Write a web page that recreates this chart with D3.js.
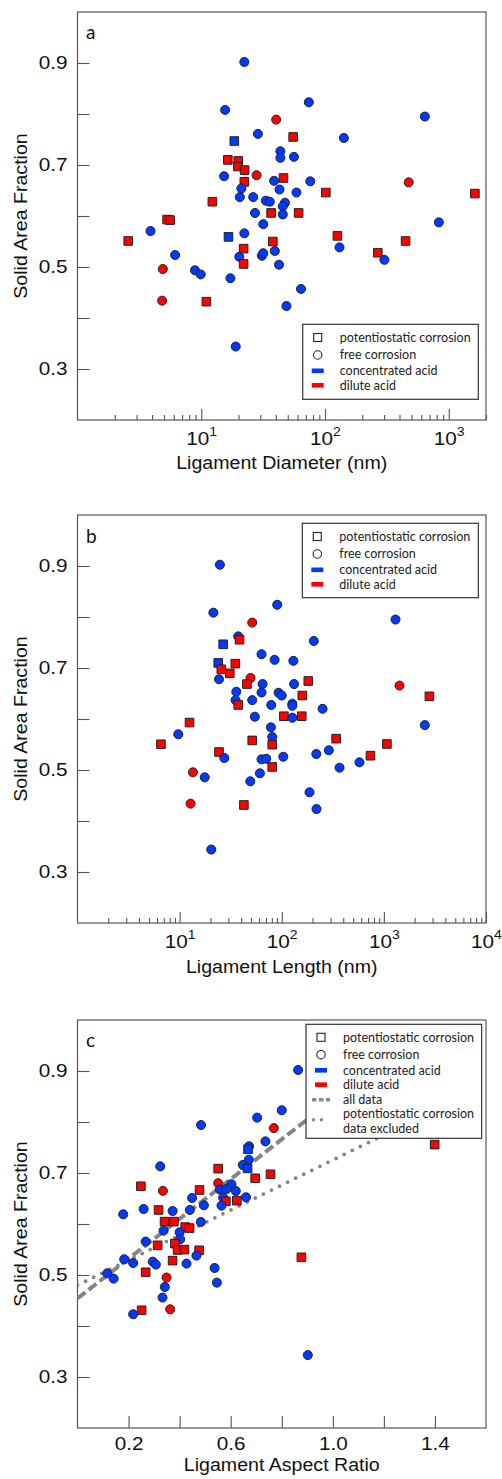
<!DOCTYPE html>
<html>
<head>
<meta charset="utf-8">
<script src="https://cdn.jsdelivr.net/npm/d3@7"></script>
<style>
  body { margin: 0; background: #fff; }
  svg { display: block; }
</style>
</head>
<body>
<svg id="fig" width="502" height="1479"></svg>
<script>
// type codes: P = potentiostatic corrosion (square), F = free corrosion (circle)
//             C = concentrated acid (blue), D = dilute acid (red)

// panel a: ligament diameter (nm) vs solid area fraction
const diameterData = [
  [22.3, 0.902, "FC"], [15.6, 0.808, "FC"], [74, 0.823, "FC"], [40.3, 0.789, "FD"],
  [641, 0.795, "FC"], [28.7, 0.761, "FC"], [55.3, 0.755, "PD"], [142, 0.753, "FC"],
  [18.5, 0.747, "PC"], [43.6, 0.727, "FC"], [43.6, 0.714, "FC"], [56.1, 0.716, "FC"],
  [16.4, 0.710, "PD"], [19.9, 0.708, "PD"], [19.8, 0.697, "PD"], [22.4, 0.690, "PD"],
  [15.3, 0.678, "FC"], [28, 0.680, "FD"], [22.3, 0.667, "PD"], [46.2, 0.6745, "PD"],
  [38.8, 0.669, "FC"], [76, 0.668, "FC"], [21.1, 0.654, "FC"], [42.9, 0.652, "FC"],
  [58.8, 0.646, "FC"], [101.6, 0.646, "PD"], [1626, 0.644, "PD"], [475, 0.666, "FD"],
  [20.5, 0.637, "FC"], [26.3, 0.637, "FC"], [12.3, 0.628, "PD"], [33.3, 0.630, "FC"],
  [35.8, 0.628, "FC"], [47.5, 0.626, "FC"], [45.6, 0.619, "FC"], [27.2, 0.606, "FC"],
  [36.7, 0.606, "PD"], [45.6, 0.603, "FC"], [61.2, 0.606, "PD"], [31.7, 0.584, "FC"],
  [832, 0.5875, "FC"], [5.3, 0.593, "PD"], [5.6, 0.592, "PD"], [3.89, 0.5705, "FC"],
  [2.57, 0.551, "PD"], [16.6, 0.559, "PC"], [22.3, 0.566, "FC"], [37.9, 0.550, "PD"],
  [126, 0.561, "PD"], [448, 0.551, "PD"], [6.15, 0.5235, "FC"], [22, 0.536, "PD"],
  [20.3, 0.520, "FC"], [22, 0.506, "PD"], [30.9, 0.522, "FC"], [31.7, 0.527, "FC"],
  [39.3, 0.5315, "FC"], [42.5, 0.5045, "FC"], [131, 0.5385, "FC"], [267, 0.528, "PD"],
  [302, 0.514, "FC"], [4.89, 0.496, "FD"], [8.9, 0.4935, "FC"], [9.9, 0.4855, "FC"],
  [17.2, 0.478, "FC"], [64, 0.457, "FC"], [4.83, 0.434, "FD"], [11, 0.432, "PD"],
  [48.8, 0.4235, "FC"], [19, 0.344, "FC"]
];

// panel b: ligament length (nm) vs solid area fraction
const lengthData = [
  [24.8, 0.9025, "FC"], [21.4, 0.8085, "FC"], [90.3, 0.824, "FC"], [51.4, 0.789, "FD"],
  [1300, 0.795, "FC"], [37.5, 0.762, "FC"], [38.6, 0.7555, "PD"], [206, 0.753, "FC"],
  [26.7, 0.7465, "PC"], [63.4, 0.727, "FC"], [85.1, 0.716, "FC"], [130, 0.714, "FC"],
  [23.9, 0.710, "PC"], [35.1, 0.7085, "PD"], [25.6, 0.6975, "PD"], [31, 0.6895, "PD"],
  [24.3, 0.678, "FC"], [49.5, 0.6805, "FD"], [45.6, 0.6685, "PD"], [64.9, 0.6685, "FC"],
  [63.4, 0.652, "FC"], [132, 0.6685, "FC"], [182, 0.6745, "PD"], [1422, 0.6655, "FD"],
  [2790, 0.6445, "PD"], [35.9, 0.6535, "FC"], [93, 0.6515, "FC"], [100, 0.646, "FC"],
  [159, 0.646, "PD"], [35.3, 0.637, "FC"], [37.5, 0.6275, "PD"], [51.4, 0.637, "FC"],
  [78.9, 0.6275, "FC"], [127, 0.630, "FC"], [127, 0.626, "FC"], [251, 0.620, "FC"],
  [54.5, 0.6045, "FC"], [105, 0.6055, "PD"], [127, 0.6025, "FC"], [157, 0.6055, "PD"],
  [12.5, 0.593, "PD"], [2517, 0.588, "FC"], [78.3, 0.5837, "FC"], [9.7, 0.570, "FC"],
  [6.56, 0.5505, "PD"], [51.4, 0.558, "PD"], [80.7, 0.5647, "FC"], [80.7, 0.5497, "PD"],
  [341, 0.5614, "PD"], [1070, 0.551, "PD"], [24.3, 0.5353, "PD"], [27.4, 0.5235, "FC"],
  [63.4, 0.521, "FC"], [70.5, 0.522, "FC"], [103.5, 0.526, "FC"], [218, 0.5314, "FC"],
  [289, 0.5386, "FC"], [368, 0.5045, "FC"], [577, 0.515, "FC"], [739, 0.528, "PD"],
  [80.7, 0.506, "PD"], [13.5, 0.4955, "FD"], [17.6, 0.4857, "FC"], [61.1, 0.4935, "FC"],
  [49.2, 0.4778, "FC"], [187, 0.4563, "FC"], [12.8, 0.434, "FD"], [42.6, 0.4314, "PD"],
  [219, 0.4235, "FC"], [20.4, 0.344, "FC"]
];

// panel c: ligament aspect ratio vs solid area fraction
const aspectData = [
  [0.864, 0.902, "FC"], [0.800, 0.823, "FC"], [0.7035, 0.8086, "FC"], [0.769, 0.788, "FD"],
  [0.484, 0.794, "FC"], [0.736, 0.762, "FC"], [1.399, 0.7557, "PD"], [0.672, 0.7524, "FC"],
  [0.668, 0.7465, "PC"], [0.671, 0.726, "FC"], [0.6475, 0.7157, "FC"], [0.666, 0.709, "PC"],
  [0.324, 0.713, "FC"], [0.551, 0.7086, "PD"], [0.756, 0.6975, "PD"], [0.696, 0.6896, "PD"],
  [0.551, 0.680, "FD"], [0.603, 0.678, "FC"], [0.5575, 0.6675, "FC"], [0.5837, 0.6687, "FC"],
  [0.620, 0.6647, "FC"], [0.2484, 0.674, "PD"], [0.3345, 0.665, "FD"], [0.478, 0.6667, "PD"],
  [0.449, 0.651, "FC"], [0.5705, 0.6518, "FC"], [0.581, 0.6445, "PD"], [0.624, 0.6458, "PD"],
  [0.660, 0.6524, "FC"], [0.564, 0.636, "FC"], [0.495, 0.6367, "FC"], [0.440, 0.6275, "FC"],
  [0.259, 0.6294, "FC"], [0.3175, 0.6275, "PD"], [0.3725, 0.6255, "FC"], [0.179, 0.619, "FC"],
  [0.341, 0.6047, "PD"], [0.3775, 0.6047, "PD"], [0.483, 0.604, "FC"], [0.4218, 0.594, "PD"],
  [0.439, 0.592, "PD"], [0.337, 0.587, "FC"], [0.400, 0.5837, "FC"], [0.402, 0.570, "FC"],
  [0.267, 0.5655, "FC"], [0.314, 0.5582, "PD"], [0.3815, 0.5616, "PD"], [0.392, 0.549, "PD"],
  [0.419, 0.5498, "PD"], [0.4765, 0.5484, "PD"], [0.466, 0.538, "FC"], [0.183, 0.5308, "FC"],
  [0.218, 0.5235, "FC"], [0.295, 0.5262, "FC"], [0.307, 0.5204, "FC"], [0.3725, 0.5282, "PD"],
  [0.427, 0.5223, "FC"], [0.877, 0.5347, "PD"], [0.537, 0.5137, "FC"], [0.1167, 0.5033, "FC"],
  [0.1416, 0.4929, "FC"], [0.267, 0.5053, "PD"], [0.349, 0.495, "FD"], [0.342, 0.4765, "FC"],
  [0.546, 0.485, "FC"], [0.333, 0.4557, "FC"], [0.251, 0.4308, "PD"], [0.363, 0.4327, "FD"],
  [0.218, 0.423, "FC"], [0.902, 0.343, "FC"]
];

// linear fits in panel c: [intercept, slope], drawn over fitRange
const fitAllData = [0.454, 0.39];
const fitExcluded = [0.48, 0.2455];
const fitRange = [0, 1.3];

const yTicks = [0.3, 0.4, 0.5, 0.6, 0.7, 0.8, 0.9];
const yLabels = ["0.3", "0.5", "0.7", "0.9"];
const aspectTicks = [0.2, 0.4, 0.6, 0.8, 1.0, 1.2, 1.4];
const aspectLabels = ["0.2", "0.6", "1.0", "1.4"];

const legendBase = [
  {label: "potentiostatic corrosion", sym: "square"},
  {label: "free corrosion", sym: "circle"},
  {label: "concentrated acid", sym: "blue"},
  {label: "dilute acid", sym: "red"}
];
const legendFits = [
  {label: "all data", sym: "dash"},
  {label: ["potentiostatic corrosion", "data excluded"], sym: "dot"}
];

const blue = "#0039ff", red = "#ff0000";
const frameCol = "#555";
const arial = "'Liberation Sans', Arial, Helvetica, sans-serif";
const myriad = "Lato, 'Open Sans', sans-serif";
const stretch = "scale(1.12,1)";

const svg = d3.select("#fig");
svg.append("rect").attr("width", 502).attr("height", 1479).attr("fill", "#fff");

const left = 77.5, right = 486, plotH = 408;

function styleAxis(ax) {
  ax.attr("font-family", arial).attr("font-size", 18.5);
  ax.select(".domain").remove();
  ax.selectAll(".tick line").attr("stroke", frameCol).attr("stroke-width", 1.1);
  ax.selectAll(".tick text").attr("fill", "#111");
}

function drawLegend(g, bx, by, bw, bh, items) {
  const lg = g.append("g").attr("transform", `translate(${bx},${by})`);
  lg.append("rect").attr("width", bw).attr("height", bh)
    .attr("fill", "#fff").attr("stroke", "#333").attr("stroke-width", 1.2);
  items.forEach(it => {
    const sy = it.y, sx = 15;
    if (it.sym === "square") {
      lg.append("rect").attr("x", sx - 4).attr("y", sy - 4).attr("width", 8).attr("height", 8)
        .attr("fill", "none").attr("stroke", "#222").attr("stroke-width", 1.1);
    } else if (it.sym === "circle") {
      lg.append("circle").attr("cx", sx).attr("cy", sy).attr("r", 4.2)
        .attr("fill", "none").attr("stroke", "#222").attr("stroke-width", 1.1);
    } else if (it.sym === "blue" || it.sym === "red") {
      lg.append("rect").attr("x", sx - 6).attr("y", sy - 2.3).attr("width", 12).attr("height", 4.6)
        .attr("fill", it.sym === "blue" ? blue : red);
    } else if (it.sym === "dash") {
      lg.append("line").attr("x1", sx - 9).attr("x2", sx + 9).attr("y1", sy).attr("y2", sy)
        .attr("stroke", "#888").attr("stroke-width", 3.5).attr("stroke-dasharray", "4.5,2.5");
    } else if (it.sym === "dot") {
      lg.append("line").attr("x1", sx - 7.5).attr("x2", sx + 8.5).attr("y1", sy).attr("y2", sy)
        .attr("stroke", "#888").attr("stroke-width", 3.5).attr("stroke-linecap", "round")
        .attr("stroke-dasharray", "0,8");
    }
    const lines = Array.isArray(it.label) ? it.label : [it.label];
    lines.forEach((t, i) => {
      lg.append("text").attr("x", 37).attr("y", it.ty + i * 15)
        .attr("font-family", myriad).attr("font-size", 12.5).attr("fill", "#222").text(t);
    });
  });
}

function panel(o) {
  const top = o.top, bottom = top + plotH;
  const x = o.x;
  const y = d3.scaleLinear().domain([0.2, 1.0]).range([bottom, top]);
  const g = svg.append("g");
  const clipId = "clip" + o.letter;
  g.append("clipPath").attr("id", clipId).append("rect")
    .attr("x", left).attr("y", top).attr("width", right - left).attr("height", plotH);

  // y axis, ticks inward
  const ya = g.append("g").attr("transform", `translate(${left},0)`)
    .call(d3.axisLeft(y).tickValues(yTicks).tickSize(-12).tickPadding(9)
      .tickFormat(d => yLabels.includes(d.toFixed(1)) ? d.toFixed(1) : ""));
  styleAxis(ya);
  ya.selectAll(".tick text").attr("transform", stretch);

  // x axis
  const xa = g.append("g").attr("transform", `translate(0,${bottom})`);
  if (o.log) {
    const [d0, d1] = x.domain();
    const vals = x.ticks().filter(v => v > d0 && v < d1 * 1.0001);
    const isMajor = v => Math.abs(Math.log10(v) - Math.round(Math.log10(v))) < 1e-9;
    xa.call(d3.axisBottom(x).tickValues(vals).tickSize(-5).tickFormat(""));
    styleAxis(xa);
    xa.selectAll(".tick line").attr("y2", d => isMajor(d) ? -11 : -5);
    xa.selectAll(".tick").filter(d => o.xLabels.includes(d)).each(function(d) {
      const t = d3.select(this).select("text")
        .attr("y", 25).attr("dy", null).attr("text-anchor", "middle").attr("transform", stretch);
      t.append("tspan").text("10");
      t.append("tspan").attr("font-size", 12.5).attr("dy", -9).text(Math.round(Math.log10(d)));
    });
  } else {
    xa.call(d3.axisBottom(x).tickValues(aspectTicks).tickSize(-12)
      .tickFormat(d => aspectLabels.includes(d.toFixed(1)) ? d.toFixed(1) : ""));
    styleAxis(xa);
    xa.selectAll(".tick text").attr("y", 22.4).attr("dy", null).attr("transform", stretch);
  }

  // frame
  g.append("rect").attr("x", left).attr("y", top).attr("width", right - left).attr("height", plotH)
    .attr("fill", "none").attr("stroke", frameCol).attr("stroke-width", 1.2);

  // fit lines
  const plot = g.append("g").attr("clip-path", `url(#${clipId})`);
  if (o.fits) {
    const line = d3.line().x(d => x(d[0])).y(d => y(d[1]));
    const pts = f => fitRange.map(v => [v, f[0] + f[1] * v]);
    plot.append("path").attr("d", line(pts(fitAllData))).attr("fill", "none")
      .attr("stroke", "#858585").attr("stroke-width", 4).attr("stroke-dasharray", "10,4");
    plot.append("path").attr("d", line(pts(fitExcluded))).attr("fill", "none")
      .attr("stroke", "#858585").attr("stroke-width", 3.8).attr("stroke-linecap", "round")
      .attr("stroke-dasharray", "0,9");
  }

  // markers
  const sym = d3.symbol()
    .type(d => d[2][0] === "P" ? d3.symbolSquare : d3.symbolCircle)
    .size(d => d[2][0] === "P" ? 74 : 64);
  plot.selectAll("path.mark").data(o.data).join("path").attr("class", "mark")
    .attr("transform", d => `translate(${x(d[0])},${y(d[1])})`)
    .attr("d", sym)
    .attr("fill", d => d[2][1] === "C" ? blue : red)
    .attr("stroke", "#222").attr("stroke-width", 1);

  // legend
  drawLegend(g, o.legend[0], o.legend[1], o.legend[2], o.legend[3], o.legendItems);

  // panel letter
  g.append("text").attr("x", 86).attr("y", top + o.letterY).attr("font-family", myriad)
    .attr("font-size", 19).attr("fill", "#111").text(o.letter);

  // axis titles
  g.append("text").attr("transform", `translate(${(left + right) / 2},${bottom + o.titleY}) ${stretch}`)
    .attr("text-anchor", "middle").attr("font-family", arial).attr("font-size", 17.5)
    .attr("fill", "#111").text(o.xTitle);
  g.append("text").attr("transform", `translate(27,${(top + bottom) / 2}) rotate(-90) ${stretch}`)
    .attr("text-anchor", "middle").attr("font-family", arial).attr("font-size", 17.5)
    .attr("fill", "#111").text("Solid Area Fraction");
}

const rowsA = [13.2, 30.7, 46.5, 61];
const baseItems = legendBase.map((d, i) => ({...d, y: rowsA[i], ty: rowsA[i] + 4.3}));

panel({
  top: 12, letter: "a", letterY: 26.5, log: true,
  x: d3.scaleLog().domain([1, 2000]).range([left, right]),
  xLabels: [10, 100, 1000],
  data: diameterData, xTitle: "Ligament Diameter (nm)", titleY: 48.5,
  legend: [302.7, 324.3, 175.6, 75], legendItems: baseItems
});

panel({
  top: 515, letter: "b", letterY: 27.7, log: true,
  x: d3.scaleLog().domain([1, 10000]).range([left, right]),
  xLabels: [10, 100, 1000, 10000],
  data: lengthData, xTitle: "Ligament Length (nm)", titleY: 49.7,
  legend: [302.3, 523.3, 176, 74.4], legendItems: baseItems
});

const rowsC = [13, 30.4, 46, 60.4, 75.4];
const cItems = legendBase.concat(legendFits).map((d, i) => {
  if (i < 5) return {...d, y: rowsC[i], ty: rowsC[i] + 4.3};
  return {...d, y: 95.4, ty: 93.7};
});

panel({
  top: 1020, letter: "c", letterY: 27, log: false,
  x: d3.scaleLinear().domain([0, 1.6]).range([left, right]),
  data: aspectData, xTitle: "Ligament Aspect Ratio", titleY: 43.2, fits: true,
  legend: [306, 1024.3, 175.7, 114], legendItems: cItems
});
</script>
</body>
</html>
